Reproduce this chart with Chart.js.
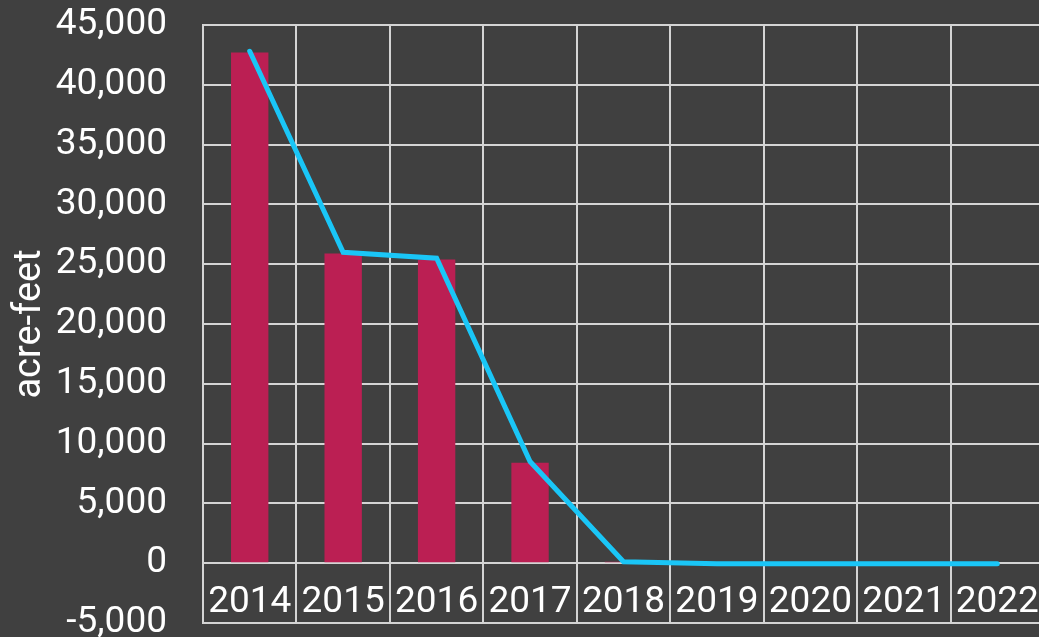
<!DOCTYPE html>
<html>
<head>
<meta charset="utf-8">
<script src="https://cdn.jsdelivr.net/npm/chart.js@4/dist/chart.umd.min.js"></script>
<style>
    html, body { margin: 0; padding: 0; background: #404040; overflow: hidden; }
    #wrap { width: 1044px; height: 637px; }
</style>
</head>
<body>
<div id="wrap"><canvas id="waterChart"></canvas></div>
<script>
// --- DATA ---
const years = ['2014', '2015', '2016', '2017', '2018', '2019', '2020', '2021', '2022'];
const barValues = [42700, 25900, 25400, 8400, 120, 0, 0, 0, 0];
const lineValues = [42800, 26000, 25500, 8500, 120, -40, -40, -40, -40];
const yMin = -5000;
const yMax = 45000;
const yStep = 5000;

const gridColor = '#d4d4d4';
const textColor = '#ffffff';

Chart.defaults.font.family = 'Roboto, "Noto Sans", sans-serif';

const ctx = document.getElementById('waterChart').getContext('2d');
new Chart(ctx, {
    data: {
        labels: years,
        datasets: [
            {
                type: 'line',
                data: lineValues,
                borderColor: '#1ac6f7',
                borderWidth: 5,
                borderCapStyle: 'round',
                pointRadius: 0,
                tension: 0,
                order: 0
            },
            {
                type: 'bar',
                data: barValues,
                backgroundColor: '#bb1f53',
                barPercentage: 0.4,
                categoryPercentage: 1,
                order: 1
            }
        ]
    },
    options: {
        responsive: true,
        maintainAspectRatio: false,
        animation: false,
        layout: { padding: { left: 8, right: 0, top: 25, bottom: 14 } },
        plugins: {
            legend: { display: false },
            tooltip: { enabled: false }
        },
        scales: {
            x: {
                offset: true,
                clip: false,
                grid: { color: gridColor, lineWidth: 2, drawTicks: false, offset: true },
                border: { display: false },
                // negative padding pulls the year labels up inside the plot
                ticks: { color: textColor, font: { size: 37 }, padding: -42, maxRotation: 0, autoSkip: false }
            },
            y: {
                min: yMin,
                max: yMax,
                clip: false,
                // invisible tick marks make the gap between labels and plot
                grid: { color: gridColor, lineWidth: 2, drawTicks: true, tickLength: 36, tickColor: 'rgba(0,0,0,0)' },
                border: { display: true, color: gridColor, width: 2 },
                ticks: {
                    stepSize: yStep,
                    color: textColor,
                    font: { size: 37, lineHeight: 0.5 },
                    padding: 0,
                    callback: v => v.toLocaleString('en-US')
                },
                title: {
                    display: true,
                    text: 'acre-feet',
                    color: textColor,
                    font: { size: 38 },
                    padding: { top: 0, bottom: 0 }
                },
                afterFit: scale => { scale.width = 195; }
            }
        }
    }
});
</script>
</body>
</html>
